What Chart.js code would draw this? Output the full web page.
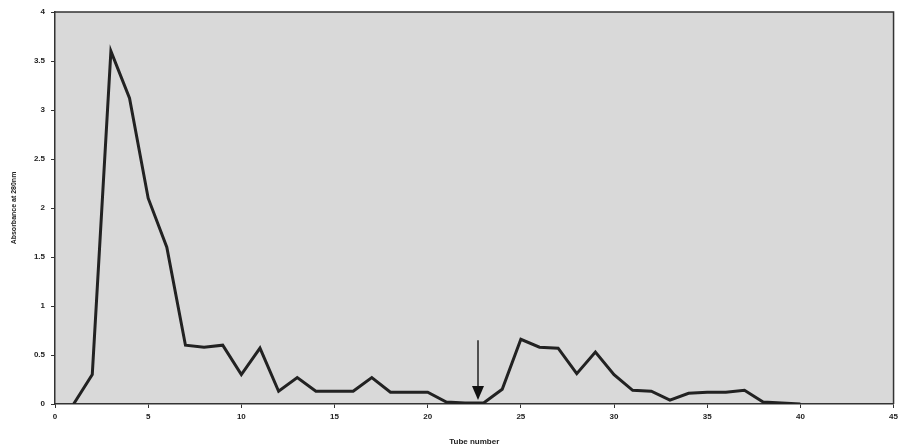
<!doctype html>
<html>

<head>
	<title>Absorbance profile</title>
	<script src="https://cdn.jsdelivr.net/npm/chart.js@4/dist/chart.umd.min.js"></script>
	<style>
	html, body {
		margin: 0;
		padding: 0;
		background: #fff;
	}
	.chart-container {
		width: 902px;
		height: 447px;
	}
	</style>
</head>

<body>
	<div class="chart-container"><canvas id="chart"></canvas></div>
	<script>
		// tube numbers and absorbance
		var tubes = [1, 2, 3, 4, 5, 6, 7, 8, 9, 10,
			11, 12, 13, 14, 15, 16, 17, 18, 19, 20,
			21, 22, 23, 24, 25, 26, 27, 28, 29, 30,
			31, 32, 33, 34, 35, 36, 37, 38, 39, 40];
		var absorbance = [0, 0.3, 3.6, 3.12, 2.1, 1.6, 0.6, 0.58, 0.6, 0.3,
			0.57, 0.13, 0.27, 0.13, 0.13, 0.13, 0.27, 0.12, 0.12, 0.12,
			0.02, 0.01, 0.01, 0.15, 0.66, 0.58, 0.57, 0.31, 0.53, 0.3,
			0.14, 0.13, 0.04, 0.11, 0.12, 0.12, 0.14, 0.02, 0.01, 0];
		// arrow marking the elution change
		var arrowTube = 22.7;
		var arrowFrom = 0.65;
		var arrowTo = 0.04;

		var points = tubes.map(function(t, i) {
			return {x: t, y: absorbance[i]};
		});

		var plotBackground = {
			id: 'plotBackground',
			beforeDraw: function(chart) {
				var a = chart.chartArea;
				var ctx = chart.ctx;
				ctx.save();
				ctx.fillStyle = '#d9d9d9';
				ctx.fillRect(a.left, a.top, a.right - a.left, a.bottom - a.top);
				ctx.strokeStyle = '#333';
				ctx.lineWidth = 1.5;
				ctx.beginPath();
				ctx.moveTo(a.left, a.top);
				ctx.lineTo(a.right, a.top);
				ctx.lineTo(a.right, a.bottom);
				ctx.stroke();
				ctx.restore();
			}
		};

		var arrowMark = {
			id: 'arrowMark',
			afterDatasetsDraw: function(chart) {
				var xs = chart.scales.x;
				var ys = chart.scales.y;
				var x = xs.getPixelForValue(arrowTube);
				var y1 = ys.getPixelForValue(arrowFrom);
				var y2 = ys.getPixelForValue(arrowTo);
				var ctx = chart.ctx;
				ctx.save();
				ctx.strokeStyle = '#222';
				ctx.fillStyle = '#111';
				ctx.lineWidth = 1.5;
				ctx.beginPath();
				ctx.moveTo(x, y1);
				ctx.lineTo(x, y2 - 12);
				ctx.stroke();
				ctx.beginPath();
				ctx.moveTo(x - 6, y2 - 14);
				ctx.lineTo(x + 6, y2 - 14);
				ctx.lineTo(x, y2);
				ctx.closePath();
				ctx.fill();
				ctx.restore();
			}
		};

		var tickFont = {family: 'Arial, "Liberation Sans", sans-serif', size: 8, weight: 'bold'};

		window.onload = function() {
			var ctx = document.getElementById('chart').getContext('2d');
			new Chart(ctx, {
				type: 'scatter',
				data: {
					datasets: [{
						data: points,
						showLine: true,
						borderColor: '#222',
						borderWidth: 3,
						pointRadius: 0,
						tension: 0
					}]
				},
				options: {
					responsive: true,
					maintainAspectRatio: false,
					animation: false,
					layout: {
						padding: {left: 0, right: 7, top: 12, bottom: 0}
					},
					plugins: {
						legend: {display: false},
						tooltip: {enabled: false}
					},
					scales: {
						x: {
							type: 'linear',
							min: 0,
							max: 45,
							ticks: {
								stepSize: 5,
								color: '#222',
								font: tickFont,
								padding: 4
							},
							grid: {
								drawOnChartArea: false,
								drawTicks: true,
								tickLength: 4,
								color: '#333'
							},
							border: {color: '#333', width: 1.5},
							title: {
								display: true,
								text: 'Tube number',
								color: '#222',
								font: tickFont,
								padding: {top: 4, bottom: 0}
							},
							afterFit: function(scale) {
								scale.height = 43;
							}
						},
						y: {
							min: 0,
							max: 4,
							ticks: {
								stepSize: 0.5,
								color: '#222',
								font: tickFont,
								padding: 6,
								callback: function(value) {
									return String(value);
								}
							},
							grid: {
								drawOnChartArea: false,
								drawTicks: true,
								tickLength: 4,
								color: '#333'
							},
							border: {color: '#333', width: 1.5},
							title: {
								display: true,
								text: 'Absorbance at 280nm',
								color: '#222',
								font: {family: 'Arial, "Liberation Sans", sans-serif', size: 7, weight: 'bold'},
								padding: {top: 10, bottom: 0}
							},
							afterFit: function(scale) {
								scale.width = 55;
							}
						}
					}
				},
				plugins: [plotBackground, arrowMark]
			});
		};
	</script>
</body>

</html>
